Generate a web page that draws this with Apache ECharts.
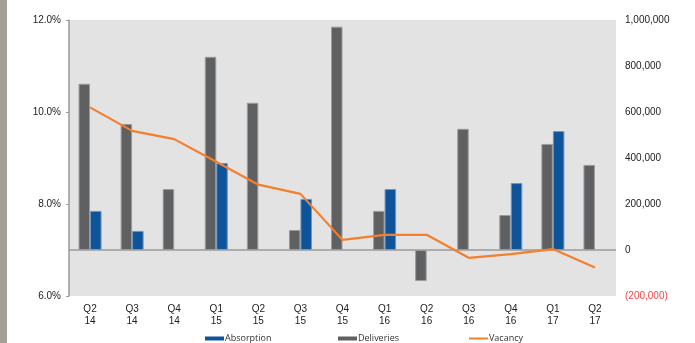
<!DOCTYPE html>
<html>
<head>
<meta charset="utf-8">
<script src="https://cdn.jsdelivr.net/npm/echarts@6/dist/echarts.min.js"></script>
<style>
  html, body { margin: 0; padding: 0; background: #ffffff; }
  #chart { width: 695px; height: 343px; }
</style>
</head>
<body>
<div id="chart"></div>
<script>
// Quarterly market data
const quarters = ['Q2\n14', 'Q3\n14', 'Q4\n14', 'Q1\n15', 'Q2\n15', 'Q3\n15', 'Q4\n15',
                  'Q1\n16', 'Q2\n16', 'Q3\n16', 'Q4\n16', 'Q1\n17', 'Q2\n17'];
const deliveries = [723000, 548000, 265000, 840000, 640000, 87000, 971000,
                    170000, -135000, 527000, 152000, 461000, 370000];
const absorption = [170000, 83000, null, 378000, null, 222000, null,
                    265000, null, null, 291000, 517000, null];
const vacancy = [10.10, 9.59, 9.41, 8.92, 8.42, 8.22, 7.22,
                 7.33, 7.33, 6.83, 6.91, 7.02, 6.62];

const chart = echarts.init(document.getElementById('chart'), null, { renderer: 'canvas' });
const axisFont = 'Liberation Sans, Arial, sans-serif';
const legendFont = '"Open Sans", "Noto Sans", sans-serif';

function legendAt(left, name, w, h, icon) {
  return {
    left: left, top: 329,
    data: [{ name: name, icon: icon }],
    itemWidth: w, itemHeight: h,
    itemGap: 0,
    selectedMode: false,
    itemStyle: { borderWidth: 0 },
    textStyle: { fontFamily: legendFont, fontSize: 9, color: '#333333', padding: [0, 0, 0, -4] }
  };
}

chart.setOption({
  animation: false,
  backgroundColor: '#ffffff',
  graphic: [{
    type: 'rect', left: 0, top: 0,
    shape: { width: 7, height: 343 },
    style: { fill: '#a39e96' }
  }],
  grid: {
    left: 69, right: 79, top: 20, bottom: 47,
    show: true, backgroundColor: '#e3e3e3', borderWidth: 0
  },
  legend: [
    legendAt(200, 'Absorption', 19, 4, 'rect'),
    legendAt(333, 'Deliveries', 19, 4, 'rect'),
    legendAt(463, 'Vacancy', 19, 2, undefined)
  ],
  xAxis: {
    type: 'category',
    data: quarters,
    boundaryGap: true,
    axisLine: { show: false },
    axisTick: { show: false },
    axisLabel: {
      margin: 7, fontFamily: axisFont, fontSize: 10, color: '#222222', lineHeight: 12
    }
  },
  yAxis: [{
    type: 'value',
    min: 6, max: 12, interval: 2,
    position: 'left',
    axisLine: { show: true, lineStyle: { color: '#9a9a9a', width: 1.5 } },
    axisTick: { show: true, inside: false, length: 3, lineStyle: { color: '#9a9a9a' } },
    splitLine: { show: false },
    axisLabel: {
      margin: 8, fontFamily: axisFont, fontSize: 10, color: '#222222',
      formatter: v => v.toFixed(1) + '%'
    }
  }, {
    type: 'value',
    min: -200000, max: 1000000, interval: 200000,
    position: 'right',
    axisLine: { show: false },
    axisTick: { show: false },
    splitLine: { show: false },
    axisLabel: {
      margin: 9, fontFamily: axisFont, fontSize: 10, color: '#222222',
      formatter: v => v < 0
        ? '{neg|(' + Math.abs(v).toLocaleString('en-US') + ')}'
        : v.toLocaleString('en-US'),
      rich: { neg: { color: '#f04646', fontFamily: axisFont, fontSize: 10 } }
    }
  }],
  series: [{
    name: 'Deliveries',
    type: 'bar',
    yAxisIndex: 1,
    data: deliveries,
    barWidth: 11.5,
    barGap: '0%',
    itemStyle: { color: '#5f6062', borderColor: '#9c9c9c', borderWidth: 1 },
    markLine: {
      silent: true,
      symbol: 'none',
      label: { show: false },
      lineStyle: { color: '#9a9a9a', width: 1.5, type: 'solid' },
      data: [{ yAxis: 0 }]
    }
  }, {
    name: 'Absorption',
    type: 'bar',
    yAxisIndex: 1,
    data: absorption,
    barWidth: 11.5,
    barGap: '0%',
    itemStyle: { color: '#0f5499', borderColor: '#6f93bd', borderWidth: 1 }
  }, {
    name: 'Vacancy',
    type: 'line',
    yAxisIndex: 0,
    data: vacancy,
    symbol: 'none',
    lineStyle: { color: '#f47f2c', width: 2.2 },
    itemStyle: { color: '#f47f2c' },
    z: 5
  }]
});
</script>
</body>
</html>
